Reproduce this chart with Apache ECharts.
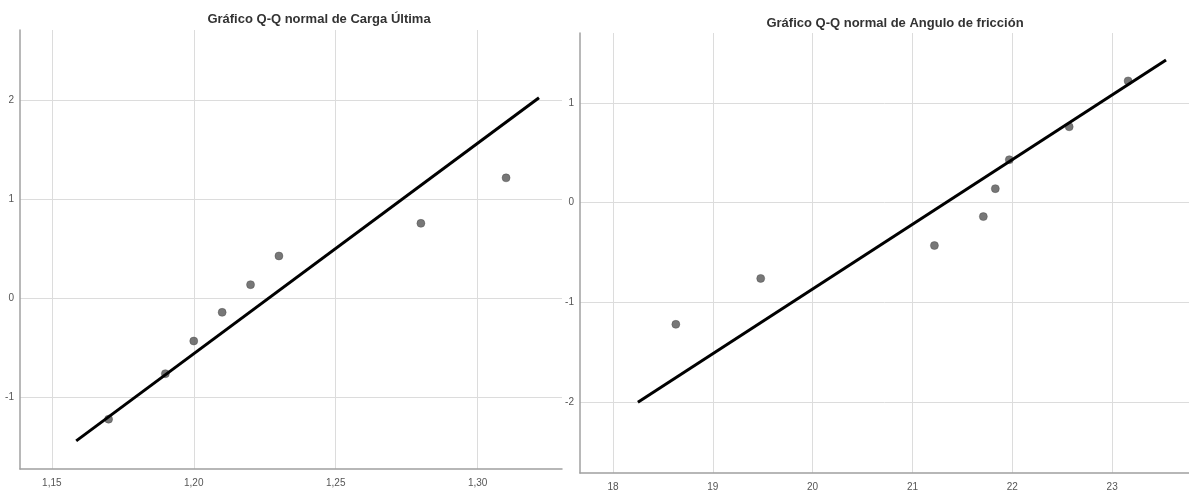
<!DOCTYPE html>
<html><head><meta charset="utf-8">
<script src="https://cdn.jsdelivr.net/npm/echarts@6/dist/echarts.min.js"></script>
<style>html,body{margin:0;padding:0;background:#fff}#c{width:1189px;height:495px}</style>
</head><body><div id="c"></div>
<script>
// Left chart: Carga Última
const titleLeft = 'Gráfico Q-Q normal de Carga Última';
const cargaObs = [1.17, 1.19, 1.20, 1.21, 1.22, 1.23, 1.28, 1.31];
const cargaExp = [-1.22, -0.76, -0.43, -0.14, 0.14, 0.43, 0.76, 1.22];
const cargaLine = [[1.1586, -1.44], [1.3216, 2.03]];
// Right chart: Angulo de fricción
const titleRight = 'Gráfico Q-Q normal de Angulo de fricción';
const anguloObs = [18.63, 19.48, 21.22, 21.71, 21.83, 21.97, 22.57, 23.16];
const anguloExp = [-1.22, -0.76, -0.43, -0.14, 0.14, 0.43, 0.76, 1.22];
const anguloLine = [[18.25, -2.0], [23.54, 1.43]];

const FONT = "'Liberation Sans Narrow','Arial Narrow','Liberation Sans',sans-serif";
const zip = (a, b) => a.map((v, i) => [v, b[i]]);
const comma = d => v => v.toFixed(d).replace('.', ',');

function xAxis(gi, min, max, split, fmt) {
  return {
    type: 'value', gridIndex: gi, min, max, splitNumber: split,
    axisLine: {show: true, onZero: false, lineStyle: {color: '#a0a0a0', width: 1.5}},
    axisTick: {show: false},
    axisLabel: {formatter: fmt, color: '#555', fontFamily: FONT, fontSize: 10, margin: 9, showMinLabel: false, showMaxLabel: false},
    splitLine: {show: true, showMinLine: false, showMaxLine: false, lineStyle: {color: '#dcdcdc', width: 1}}
  };
}
function yAxis(gi, min, max) {
  return {
    type: 'value', gridIndex: gi, min, max, splitNumber: 5,
    axisLine: {show: true, onZero: false, lineStyle: {color: '#a0a0a0', width: 1.5}},
    axisTick: {show: false},
    axisLabel: {formatter: v => String(v), color: '#555', fontFamily: FONT, fontSize: 10, margin: 6, showMinLabel: false, showMaxLabel: false},
    splitLine: {show: true, showMinLine: false, showMaxLine: false, lineStyle: {color: '#dcdcdc', width: 1}}
  };
}

const chart = echarts.init(document.getElementById('c'), null, {renderer: 'canvas'});
chart.setOption({
  animation: false,
  backgroundColor: '#fff',
  title: [
    {text: titleLeft, left: 314, top: 8, textAlign: 'center', textStyle: {fontFamily: FONT, fontSize: 13, fontWeight: 'bold', color: '#333'}},
    {text: titleRight, left: 890, top: 12, textAlign: 'center', textStyle: {fontFamily: FONT, fontSize: 13, fontWeight: 'bold', color: '#333'}}
  ],
  grid: [
    {left: 20, top: 30, width: 542, height: 439},
    {left: 580, top: 33, width: 609, height: 440}
  ],
  xAxis: [
    xAxis(0, 1.1388, 1.3297, 4, comma(2)),
    xAxis(1, 17.67, 23.77, 5, v => String(v))
  ],
  yAxis: [
    yAxis(0, -1.724, 2.715),
    yAxis(1, -2.71, 1.70)
  ],
  series: [
    {type: 'line', xAxisIndex: 0, yAxisIndex: 0, data: cargaLine, showSymbol: false, lineStyle: {color: '#000', width: 3}, z: 3},
    {type: 'scatter', xAxisIndex: 0, yAxisIndex: 0, data: zip(cargaObs, cargaExp), symbolSize: 8, itemStyle: {color: '#555', borderColor: '#444', borderWidth: 0.5}, z: 2},
    {type: 'line', xAxisIndex: 1, yAxisIndex: 1, data: anguloLine, showSymbol: false, lineStyle: {color: '#000', width: 3}, z: 3},
    {type: 'scatter', xAxisIndex: 1, yAxisIndex: 1, data: zip(anguloObs, anguloExp), symbolSize: 8, itemStyle: {color: '#555', borderColor: '#444', borderWidth: 0.5}, z: 2}
  ]
});
</script>
</body></html>
